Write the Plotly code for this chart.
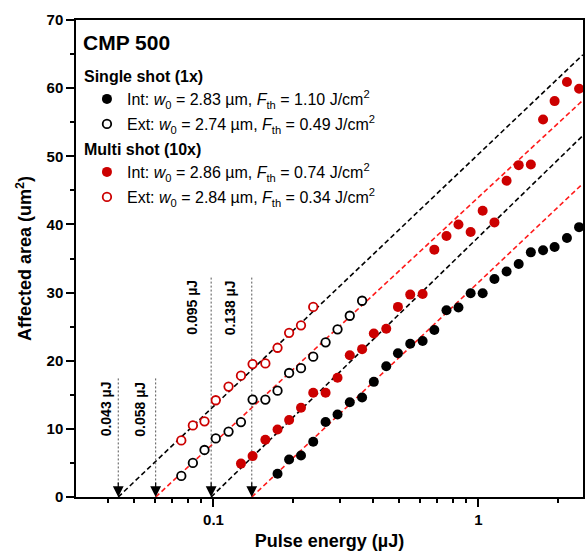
import numpy as np
import plotly.graph_objects as go

# ---------------- data ----------------
# Multi shot (10x), external (open red)
e_ext_multi = [0.0756, 0.0836, 0.0925, 0.102, 0.114, 0.127, 0.1405, 0.157, 0.1745, 0.193, 0.214, 0.238]
a_ext_multi = [8.3, 10.5, 11.1, 14.2, 16.2, 17.8, 19.5, 19.6, 21.9, 24.1, 25.2, 27.9]
# Single shot (1x), external (open black)
e_ext_single = [0.0756, 0.0836, 0.0925, 0.102, 0.114, 0.127, 0.1405, 0.157, 0.1745, 0.193, 0.214,
                0.238, 0.265, 0.294, 0.327, 0.364]
a_ext_single = [3.1, 5.0, 6.9, 8.6, 9.6, 11.0, 14.3, 14.3, 15.6, 18.2, 18.9,
                20.6, 22.7, 24.6, 26.6, 28.8]
# Multi shot (10x), internal (filled red)
e_int_multi = [0.127, 0.1405, 0.157, 0.1745, 0.193, 0.214, 0.238, 0.265, 0.294, 0.327, 0.364,
               0.403, 0.449, 0.497, 0.553, 0.616, 0.682, 0.758, 0.841, 0.935, 1.038, 1.15,
               1.278, 1.42, 1.578, 1.755, 1.94, 2.16, 2.40]
a_int_multi = [4.9, 6.0, 8.4, 9.9, 11.3, 13.1, 15.3, 15.3, 17.5, 20.8, 21.7,
               24.0, 24.7, 27.9, 29.7, 29.8, 36.3, 38.3, 40.0, 38.9, 42.0, 40.3,
               46.4, 48.7, 48.8, 55.4, 58.1, 60.9, 59.9]
# Single shot (1x), internal (filled black)
e_int_single = [0.1745, 0.193, 0.214, 0.238, 0.265, 0.294, 0.327, 0.364, 0.403, 0.449, 0.497,
                0.553, 0.616, 0.682, 0.758, 0.841, 0.935, 1.038, 1.15, 1.278, 1.42, 1.578,
                1.755, 1.94, 2.16, 2.40]
a_int_single = [3.4, 5.5, 6.1, 8.1, 11.0, 12.1, 13.9, 14.6, 16.9, 19.2, 21.1,
                22.5, 22.9, 24.5, 27.4, 27.8, 29.9, 29.9, 32.0, 33.1, 34.2, 35.9,
                36.2, 36.7, 38.0, 39.6]

# Linear (in log E) fits: threshold energy (µJ) and slope (µm² per decade)
fit_threshold = [0.0437, 0.0605, 0.098, 0.1395]
fit_slope = [37.0, 36.1, 37.8, 36.8]
fit_end = 2.48
threshold_labels = ["0.043 µJ", "0.058 µJ", "0.095 µJ", "0.138 µJ"]
marker_top = [17.4, 17.4, 32.2, 32.2]   # top of dotted threshold markers (µm²)
label_mid = [12.9, 12.9, 27.8, 27.8]    # vertical centre of threshold labels (µm²)

title_text = "CMP 500"
group_titles = ["Single shot (1x)", "Multi shot (10x)"]
legend_names = [
    "Int: <i>w</i><sub>0</sub> = 2.83 µm, <i>F</i><sub>th</sub> = 1.10 J/cm<sup>2</sup>",
    "Ext: <i>w</i><sub>0</sub> = 2.74 µm, <i>F</i><sub>th</sub> = 0.49 J/cm<sup>2</sup>",
    "Int: <i>w</i><sub>0</sub> = 2.86 µm, <i>F</i><sub>th</sub> = 0.74 J/cm<sup>2</sup>",
    "Ext: <i>w</i><sub>0</sub> = 2.84 µm, <i>F</i><sub>th</sub> = 0.34 J/cm<sup>2</sup>",
]

x_minor = [0.04, 0.05, 0.06, 0.07, 0.08, 0.09, 0.2, 0.3, 0.4, 0.5, 0.6, 0.7, 0.8, 0.9, 2]
x_major = [0.1, 1]

# ---------------- styles ----------------
FONT = "Liberation Sans, Arial, sans-serif"
RED = "#cc0000"
LINE_RED = "#ff1a1a"
fit_colors = ["black", LINE_RED, "black", LINE_RED]
label_xshift = [-12, -16, -20, -22]
x_range = [-1.519, 0.395]

# plot-area geometry in pixels (for placing the in-plot legend)
ML, MR, MT, MB, W, H = 76, 1, 20, 58, 586, 555
PW, PH = W - ML - MR, H - MT - MB


def px_x(px):
    return (px - ML) / PW


def px_y(py):
    return (H - MB - py) / PH


fig = go.Figure()

# fit lines
for e0, k, c in zip(fit_threshold, fit_slope, fit_colors):
    xs = np.array([e0, fit_end])
    ys = k * np.log10(xs / e0)
    fig.add_trace(go.Scatter(x=xs, y=ys, mode="lines", showlegend=False, hoverinfo="skip",
                             line=dict(color=c, width=1.6, dash="5px,3px")))

# dotted threshold markers
for e0, top in zip(fit_threshold, marker_top):
    fig.add_trace(go.Scatter(x=[e0, e0], y=[top, 1.5], mode="lines", showlegend=False,
                             hoverinfo="skip", line=dict(color="#555555", width=1, dash="2px,2px")))

# data points (each in its own legend box for exact placement)
series = [
    (e_int_single, a_int_single, dict(symbol="circle", size=10, color="black", line=dict(width=0))),
    (e_ext_single, a_ext_single, dict(symbol="circle", size=8.5, color="white",
                                      line=dict(width=1.8, color="black"))),
    (e_int_multi, a_int_multi, dict(symbol="circle", size=10, color=RED, line=dict(width=0))),
    (e_ext_multi, a_ext_multi, dict(symbol="circle", size=8.5, color="white",
                                    line=dict(width=1.8, color=RED))),
]
legend_ids = ["legend", "legend2", "legend3", "legend4"]
legend_rows_px = [99, 124, 172, 197]
for (xs, ys, mk), name, lid in zip(series, legend_names, legend_ids):
    fig.add_trace(go.Scatter(x=xs, y=ys, mode="markers", name=name, legend=lid, marker=mk))

# arrowheads + labels
for e0, lab, ym, xs in zip(fit_threshold, threshold_labels, label_mid, label_xshift):
    fig.add_annotation(x=np.log10(e0), y=0, ax=0, ay=-16, axref="pixel", ayref="pixel",
                       xref="x", yref="y", text="", showarrow=True, arrowhead=2,
                       arrowsize=1.8, arrowwidth=1.2, arrowcolor="black")
    fig.add_annotation(x=np.log10(e0), y=ym, xref="x", yref="y", text=lab, showarrow=False,
                       textangle=-90, xshift=xs,
                       font=dict(family=FONT, size=14, color="black", weight="bold"))

# legend title and group titles
fig.add_annotation(x=px_x(81), y=px_y(43), xref="paper", yref="paper", text=title_text,
                   showarrow=False, xanchor="left", yanchor="middle",
                   font=dict(family=FONT, size=21, color="black", weight="bold"))
for gt, ypx in zip(group_titles, [77, 149]):
    fig.add_annotation(x=px_x(82), y=px_y(ypx), xref="paper", yref="paper", text=gt,
                       showarrow=False, xanchor="left", yanchor="middle",
                       font=dict(family=FONT, size=16, color="black", weight="bold"))

axis_common = dict(showgrid=False, zeroline=False, linecolor="black", linewidth=1.5,
                   tickcolor="black", tickwidth=1.5)

legend_common = dict(xanchor="left", yanchor="middle", bgcolor="rgba(0,0,0,0)",
                     font=dict(size=16), itemwidth=30)

layout_legends = {}
for lid, ypx in zip(legend_ids, legend_rows_px):
    layout_legends[lid] = dict(x=px_x(87), y=px_y(ypx), **legend_common)

fig.update_layout(
    width=W, height=H,
    margin=dict(l=ML, r=MR, t=MT, b=MB),
    paper_bgcolor="white", plot_bgcolor="white",
    font=dict(family=FONT, color="black"),
    showlegend=True,
    xaxis=dict(type="log", range=x_range, tickvals=x_major, ticktext=["0.1", "1"],
               ticks="outside", ticklen=8, mirror=True, showline=True,
               tickfont=dict(size=15, weight="bold"),
               minor=dict(tickvals=x_minor, ticks="outside", ticklen=4, tickcolor="black", tickwidth=1.5),
               title=dict(text="Pulse energy (µJ)", font=dict(size=18, weight="bold"), standoff=8),
               **axis_common),
    yaxis=dict(range=[0, 70], dtick=10, tick0=0, ticks="outside", ticklen=8, mirror=True,
               showline=True, tickfont=dict(size=15, weight="bold"),
               minor=dict(dtick=5, ticks="outside", ticklen=4, tickcolor="black", tickwidth=1.5),
               title=dict(text="Affected area (um<sup>2</sup>)", font=dict(size=18, weight="bold"),
                          standoff=10),
               **axis_common),
    xaxis2=dict(type="log", range=x_range, overlaying="x", side="top", anchor="y",
                tickvals=x_major, ticks="inside", ticklen=8, showticklabels=False, showline=False,
                minor=dict(tickvals=x_minor, ticks="inside", ticklen=4, tickcolor="black", tickwidth=1.5),
                showgrid=False, zeroline=False, tickcolor="black", tickwidth=1.5),
    yaxis2=dict(range=[0, 70], overlaying="y", side="right", anchor="x", dtick=10, tick0=0,
                ticks="inside", ticklen=8, showticklabels=False, showline=False,
                minor=dict(dtick=5, ticks="inside", ticklen=4, tickcolor="black", tickwidth=1.5),
                showgrid=False, zeroline=False, tickcolor="black", tickwidth=1.5),
    **layout_legends,
)

fig.write_html("out.html")
